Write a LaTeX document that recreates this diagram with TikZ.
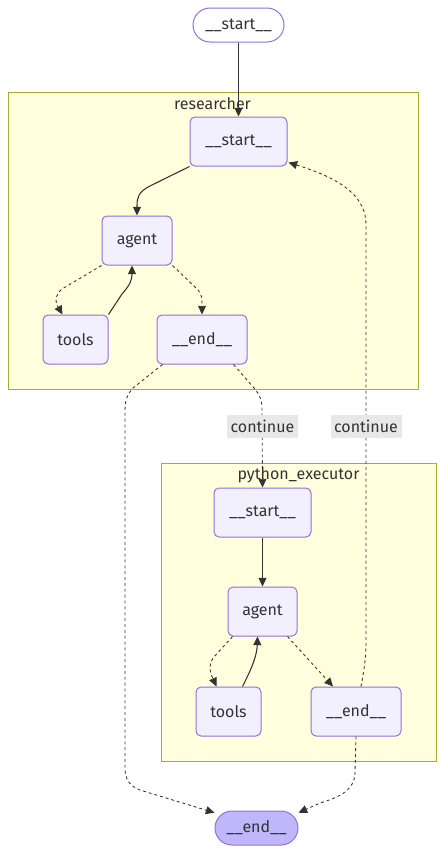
\documentclass[tikz,border=0pt]{standalone}
\usepackage{fontspec}
\setmainfont{Fira Sans}
\usetikzlibrary{arrows.meta,calc}
\definecolor{nodefill}{HTML}{F2F0FF}
\definecolor{nodeline}{HTML}{9370DB}
\definecolor{clfill}{HTML}{FFFFDE}
\definecolor{clline}{HTML}{AAAA33}
\definecolor{edgec}{HTML}{333333}
\definecolor{endfill}{HTML}{BFB6FC}
\definecolor{labfill}{HTML}{E8E8E8}
\begin{document}
\begin{tikzpicture}[x=0.75pt,y=-0.75pt,
  every node/.style={font=\fontsize{12}{14}\selectfont, text=edgec},
  gnode/.style={draw=nodeline, fill=nodefill, line width=0.75pt, rounded corners=3.75pt, minimum height=36.75pt, inner sep=0pt},
  pill/.style={draw=nodeline, line width=0.75pt, rounded corners=12.75pt, minimum height=25.5pt, inner sep=0pt},
  cluster/.style={draw=clline, fill=clfill, line width=0.75pt},
  solidedge/.style={draw=edgec, line width=0.8pt, -{Triangle[length=6.5pt,width=6pt]}},
  dashedge/.style={solidedge, line width=0.65pt, dash pattern=on 2.2pt off 2.2pt},
  elabel/.style={fill=labfill, minimum width=53.25pt, minimum height=17.25pt, inner sep=0pt}]
\useasboundingbox (0,0) rectangle (444,853);
% clusters
\draw[cluster] (8,92) rectangle (418,389);
\node (rlabel) at (212.5,103.5) {researcher};
\draw[cluster] (161,463) rectangle (436,761);
\node (plabel) at (298.5,475.5) {python\_executor};
% nodes
\node[pill, fill=white, minimum width=68.25pt] (top) at (238.5,25) {\_\_start\_\_};
\node[gnode, minimum width=72.75pt] (rstart) at (238.5,141.5) {\_\_start\_\_};
\node[gnode, minimum width=52.5pt] (ragent) at (137,240.5) {agent};
\node[gnode, minimum width=48.75pt] (rtools) at (75.5,339.5) {tools};
\node[gnode, minimum width=67.5pt] (rend) at (202,339.5) {\_\_end\_\_};
\node[gnode, minimum width=72.75pt] (pstart) at (262.5,512.5) {\_\_start\_\_};
\node[gnode, minimum width=51.75pt] (pagent) at (262.5,611.5) {agent};
\node[gnode, minimum width=48.75pt] (ptools) at (228.5,711.5) {tools};
\node[gnode, minimum width=67.5pt] (pend) at (356,711.5) {\_\_end\_\_};
\node[pill, fill=endfill, minimum width=62.25pt] (fend) at (256.5,828) {\_\_end\_\_};
% edges
\draw[solidedge] (top.south) -- (rstart.north);
\draw[solidedge] (rstart.south west) -- (150,186) .. controls (138,192) and (137,198) .. (137,206) -- (ragent.north);
\draw[dashedge] (ragent.south west) -- (62,289) .. controls (56,294) and (55,300) .. (57,305) -- ($(rtools.north)+(-13,0)$);
\draw[solidedge] (rtools.north east) -- (122,294) .. controls (130,285) and (132,280) .. ($(ragent.south)+(-5,0)$);
\draw[dashedge] (ragent.south east) -- (195,287) .. controls (201,292) and (202,296) .. (202,303) -- (rend.north);
\draw[dashedge] ($(rend.south west)+(6,0)$) -- (133,388) .. controls (126,396) and (125,402) .. (125,412) -- (125,768) .. controls (125,780) and (130,786) .. (140,790) -- (fend.160);
\draw[dashedge] ($(rend.south east)+(-14,0)$) -- (254,388) .. controls (260,395) and (262,400) .. (262,410) -- (pstart.north);
\draw[dashedge] ($(pend.north)+(5,0)$) .. controls (364,670) and (366,660) .. (366,640) -- (366,225) .. controls (366,198) and (345,180) .. ($(rstart.south east)+(1,-4)$);
\draw[solidedge] (pstart.south) -- (pagent.north);
\draw[dashedge] ($(pagent.south west)+(5,0)$) -- (213,658) .. controls (209,664) and (209,670) .. ($(ptools.north)+(-12,0)$);
\draw[solidedge] ($(ptools.north)+(14,0)$) .. controls (252,668) and (257,655) .. ($(pagent.south)+(-5,0)$);
\draw[dashedge] ($(pagent.south east)+(-10,0)$) -- ($(pend.north)+(-23,0)$);
\draw[dashedge] (pend.south) -- (355,772) .. controls (355,790) and (340,797) .. (320,803) -- (fend.20);
% edge labels
\node[elabel] (lab1) at (262.5,426.5) {continue};
\node[elabel] (lab2) at (366,426.5) {continue};
\end{tikzpicture}
\end{document}
